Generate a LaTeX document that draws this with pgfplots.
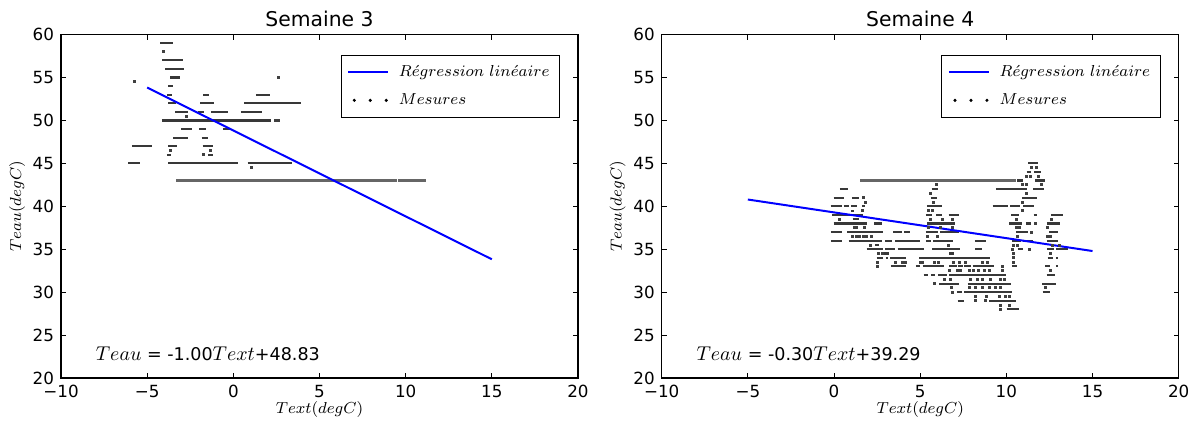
\documentclass[border=0pt]{standalone}
\usepackage[no-math]{fontspec}
\setmainfont{DejaVu Sans}
\usepackage{pgfplots}
\pgfplotsset{compat=1.18}

\pgfplotsset{
  every axis title/.style={at={(0.5,1)}, anchor=base, yshift=3.9bp, font=\fontsize{10.2}{12}\selectfont},
  myax/.style={
    scale only axis, width=258.5bp, height=171.7bp,
    xmin=-10, xmax=20, ymin=20, ymax=60,
    xtick={-10,-5,0,5,10,15,20},
    xticklabels={−10,−5,0,5,10,15,20},
    ytick={20,25,30,35,40,45,50,55,60},
    yticklabels={20,25,30,35,40,45,50,55,60},
    tick label style={font=\fontsize{8.4}{10}\selectfont},
    tick align=inside, major tick length=2.5bp,
    tick style={black, line width=0.5bp},
    axis line style={line width=0.6bp},
    unbounded coords=jump,
    xlabel={$Text(degC)$}, ylabel={$Teau(degC)$},
    label style={font=\fontsize{7.6}{9}\selectfont},
    xlabel style={at={(axis description cs:0.5,-0.093)}, anchor=center},
    ylabel style={at={(axis description cs:-0.085,0.5)}, anchor=center},
    legend style={at={(0.965,0.941)}, anchor=north east, draw=black, line width=0.5bp,
      font=\fontsize{8.5}{10}\selectfont, inner xsep=3bp, inner ysep=3bp, row sep=3bp, column sep=3bp},
    legend cell align=left,
  },
  seg/.style={black!78, line width=1.05bp, forget plot},
  reg/.style={blue, line width=1bp, legend image code/.code={\draw[##1] (0cm,0cm) -- (0.7cm,0cm);}},
  dots/.style={only marks, mark=square*, mark size=0.5bp, black!75,
    legend image code/.code={\fill[black] (0.106cm,0cm) circle[radius=0.5bp];
      \fill[black] (0.388cm,0cm) circle[radius=0.5bp];
      \fill[black] (0.67cm,0cm) circle[radius=0.5bp];}},
}
\tikzset{eq/.style={anchor=base west, inner sep=0pt, font=\fontsize{8.8}{11}\selectfont}}
\newcommand{\mv}[1]{{\fontsize{10}{12}\selectfont$#1$}}

\begin{document}
\begin{tikzpicture}
\begin{axis}[myax, at={(0,0)}, anchor=south west, title={Semaine 3}]
\addplot[seg] table[row sep=\\] {x y\\
-4.25 59\\ -3.48 59\\ nan nan\\
-4.12 57\\ -2.90 57\\ nan nan\\
-3.94 56\\ -2.84 56\\ nan nan\\
-3.67 55\\ -3.09 55\\ nan nan\\
-3.77 54\\ -3.48 54\\ nan nan\\
-3.86 53\\ -3.56 53\\ nan nan\\
-1.74 53\\ -1.43 53\\ nan nan\\
1.31 53\\ 2.13 53\\ nan nan\\
-3.77 52\\ -3.32 52\\ nan nan\\
-1.93 52\\ -1.14 52\\ nan nan\\
0.64 52\\ 3.92 52\\ nan nan\\
-3.38 51\\ -2.65 51\\ nan nan\\
-2.07 51\\ -1.70 51\\ nan nan\\
-1.31 51\\ -0.33 51\\ nan nan\\
0.44 51\\ 1.64 51\\ nan nan\\
-4.15 50\\ 2.18 50\\ nan nan\\
-3.03 49\\ -2.42 49\\ nan nan\\
-1.97 49\\ -1.58 49\\ nan nan\\
-0.58 49\\ -0.19 49\\ nan nan\\
-3.48 48\\ -2.65 48\\ nan nan\\
-1.84 48\\ -1.49 48\\ nan nan\\
-5.89 47\\ -4.73 47\\ nan nan\\
-3.77 47\\ -3.29 47\\ nan nan\\
-1.78 47\\ -1.20 47\\ nan nan\\
-3.86 46\\ -3.61 46\\ nan nan\\
-1.45 46\\ -1.20 46\\ nan nan\\
-6.09 45\\ -5.41 45\\ nan nan\\
-3.77 45\\ 0.29 45\\ nan nan\\
0.83 45\\ 3.38 45\\
};
\addplot[seg, black!60, line width=1.15bp] table[row sep=\\] {x y\\
-3.30 43\\ 9.47 43\\ nan nan\\
9.56 43\\ 11.20 43\\
};
\addplot[reg] coordinates {(-5,53.83) (15,33.83)};
\addlegendentry{$R\acute{e}gression\ lin\acute{e}aire$}
\addplot[dots] table[row sep=\\] {x y\\
-4.04 58\\ -5.72 54.5\\ 2.61 55\\ -2.74 50.5\\ 2.42 50\\ 2.61 50\\
-3.67 46.5\\ -1.31 46.5\\ -1.74 46\\ 1.02 44.5\\
};
\addlegendentry{$Mesures$}
\node[eq] at (axis cs:-8,22) {\mv{Teau} = -1.00\mv{Text}+48.83};
\end{axis}

\begin{axis}[myax, at={(300.35bp,0)}, anchor=south west, title={Semaine 4}]
\addplot[seg] table[row sep=\\] {x y\\
11.28 45\\ 11.86 45\\ nan nan\\
11.17 44\\ 11.44 44\\ nan nan\\
11.62 44\\ 12.00 44\\ nan nan\\
10.61 43\\ 10.99 43\\ nan nan\\
11.67 43\\ 12.25 43\\ nan nan\\
0.34 42\\ 0.80 42\\ nan nan\\
5.66 42\\ 6.06 42\\ nan nan\\
9.39 42\\ 11.17 42\\ nan nan\\
11.56 42\\ 12.17 42\\ nan nan\\
-0.03 41\\ 0.55 41\\ nan nan\\
1.04 41\\ 1.46 41\\ nan nan\\
5.62 41\\ 5.97 41\\ nan nan\\
10.90 41\\ 11.75 41\\ nan nan\\
-0.20 40\\ 0.44 40\\ nan nan\\
0.55 40\\ 0.84 40\\ nan nan\\
0.98 40\\ 1.36 40\\ nan nan\\
1.62 40\\ 1.81 40\\ nan nan\\
5.39 40\\ 6.29 40\\ nan nan\\
9.20 40\\ 10.07 40\\ nan nan\\
10.22 40\\ 10.80 40\\ nan nan\\
10.99 40\\ 11.61 40\\ nan nan\\
0.98 39.5\\ 1.17 39.5\\ nan nan\\
-0.09 39\\ 1.66 39\\ nan nan\\
5.33 39\\ 5.71 39\\ nan nan\\
5.91 39\\ 6.29 39\\ nan nan\\
6.65 39\\ 7.26 39\\ nan nan\\
10.27 39\\ 10.74 39\\ nan nan\\
11.58 39\\ 11.77 39\\ nan nan\\
12.58 39\\ 13.26 39\\ nan nan\\
1.08 38.5\\ 1.46 38.5\\ nan nan\\
-0.03 38\\ 1.90 38\\ nan nan\\
2.33 38\\ 2.81 38\\ nan nan\\
5.42 38\\ 7.01 38\\ nan nan\\
10.16 38\\ 10.88 38\\ nan nan\\
11.13 38\\ 11.42 38\\ nan nan\\
12.35 38\\ 13.12 38\\ nan nan\\
-0.18 37\\ 0.49 37\\ nan nan\\
0.78 37\\ 2.87 37\\ nan nan\\
3.45 37\\ 3.94 37\\ nan nan\\
4.07 37\\ 4.42 37\\ nan nan\\
5.33 37\\ 6.04 37\\ nan nan\\
6.14 37\\ 7.26 37\\ nan nan\\
10.56 37\\ 11.28 37\\ nan nan\\
12.48 37\\ 12.97 37\\ nan nan\\
-0.18 36\\ 0.49 36\\ nan nan\\
0.84 36\\ 2.76 36\\ nan nan\\
2.97 36\\ 3.36 36\\ nan nan\\
3.55 36\\ 5.00 36\\ nan nan\\
5.33 36\\ 5.62 36\\ nan nan\\
5.75 36\\ 6.93 36\\ nan nan\\
8.17 36\\ 8.81 36\\ nan nan\\
10.32 36\\ 10.84 36\\ nan nan\\
10.94 36\\ 11.52 36\\ nan nan\\
12.35 36\\ 12.99 36\\ nan nan\\
2.39 35.5\\ 2.62 35.5\\ nan nan\\
1.89 35\\ 2.85 35\\ nan nan\\
2.95 35\\ 3.55 35\\ nan nan\\
3.69 35\\ 5.23 35\\ nan nan\\
5.71 35\\ 7.30 35\\ nan nan\\
8.19 35\\ 8.61 35\\ nan nan\\
10.65 35\\ 10.94 35\\ nan nan\\
12.35 35\\ 12.77 35\\ nan nan\\
12.87 35\\ 13.60 35\\ nan nan\\
2.87 34.5\\ 3.20 34.5\\ nan nan\\
6.68 34.5\\ 6.97 34.5\\ nan nan\\
2.47 34\\ 2.87 34\\ nan nan\\
3.01 34\\ 3.16 34\\ nan nan\\
3.26 34\\ 4.17 34\\ nan nan\\
4.94 34\\ 9.06 34\\ nan nan\\
12.39 34\\ 12.68 34\\ nan nan\\
12.87 34\\ 12.99 34\\ nan nan\\
3.30 33\\ 4.17 33\\ nan nan\\
4.75 33\\ 5.00 33\\ nan nan\\
5.14 33\\ 6.39 33\\ nan nan\\
6.68 33\\ 7.11 33\\ nan nan\\
7.17 33\\ 7.46 33\\ nan nan\\
7.56 33\\ 7.94 33\\ nan nan\\
8.04 33\\ 9.31 33\\ nan nan\\
10.32 33\\ 10.61 33\\ nan nan\\
12.26 33\\ 12.54 33\\ nan nan\\
12.87 33\\ 12.99 33\\ nan nan\\
5.20 32\\ 5.48 32\\ nan nan\\
5.62 32\\ 5.87 32\\ nan nan\\
6.04 32\\ 6.58 32\\ nan nan\\
6.68 32\\ 9.97 32\\ nan nan\\
12.33 32\\ 12.81 32\\ nan nan\\
6.10 31\\ 7.26 31\\ nan nan\\
7.75 31\\ 10.26 31\\ nan nan\\
12.08 31\\ 12.87 31\\ nan nan\\
7.13 30\\ 7.42 30\\ nan nan\\
7.56 30\\ 10.32 30\\ nan nan\\
12.10 30\\ 12.54 30\\ nan nan\\
7.17 29\\ 7.56 29\\ nan nan\\
9.00 29\\ 10.55 29\\ nan nan\\
10.01 28\\ 10.75 28\\
};
\addplot[seg, black!60, line width=1.15bp] table[row sep=\\] {x y\\
1.52 43\\ 10.55 43\\
};
\addplot[reg] coordinates {(-5,40.79) (15,34.79)};
\addlegendentry{$R\acute{e}gression\ lin\acute{e}aire$}
\addplot[dots] table[row sep=\\] {x y\\
11.48 44.5\\ 11.75 44.5\\
11.19 43.5\\ 11.37 43.5\\ 11.87 43.5\\
5.95 42.5\\ 10.94 42.5\\ 11.17 42.5\\ 12.04 42.5\\
5.62 41.5\\ 11.19 41.5\\
1.71 41\\
1.81 40.5\\ 5.75 40.5\\ 10.94 40.5\\
1.62 39.5\\ 5.48 39.5\\ 5.68 39.5\\ 10.94 39.5\\
0.34 38.5\\ 5.62 38.5\\ 6.26 38.5\\ 6.88 38.5\\ 10.61 38.5\\ 12.62 38.5\\
11.71 38\\
1.17 37.5\\ 1.32 37.5\\ 1.75 37.5\\ 5.48 37.5\\ 6.16 37.5\\ 6.88 37.5\\ 10.56 37.5\\ 10.78 37.5\\ 12.39 37.5\\
11.48 37\\
1.08 36.5\\ 1.27 36.5\\ 1.46 36.5\\ 1.69 36.5\\ 1.89 36.5\\ 2.19 36.5\\ 5.39 36.5\\ 6.01 36.5\\ 10.65 36.5\\ 12.39 36.5\\ 12.58 36.5\\
2.10 35.5\\ 6.64 35.5\\ 10.40 35.5\\ 10.65 35.5\\ 12.68 35.5\\ 13.06 35.5\\
10.36 35\\ 11.36 35\\
2.59 34.5\\ 2.78 34.5\\ 10.40 34.5\\ 12.54 34.5\\
10.40 34\\
2.53 33.5\\ 3.55 33.5\\ 3.97 33.5\\ 4.13 33.5\\ 5.00 33.5\\ 5.14 33.5\\ 5.81 33.5\\ 6.06 33.5\\ 6.90 33.5\\ 7.30 33.5\\ 7.60 33.5\\ 8.61 33.5\\ 8.90 33.5\\ 10.41 33.5\\
2.49 33\\ 9.78 33\\
6.68 32.5\\ 7.16 32.5\\ 7.36 32.5\\ 7.84 32.5\\ 8.10 32.5\\ 8.40 32.5\\ 8.70 32.5\\ 8.99 32.5\\ 9.78 32.5\\ 12.54 32.5\\
6.43 31.5\\ 6.74 31.5\\ 7.94 31.5\\ 8.30 31.5\\ 8.60 31.5\\ 9.06 31.5\\ 9.68 31.5\\ 9.88 31.5\\
5.81 31\\
6.82 30.5\\ 7.84 30.5\\ 8.20 30.5\\ 8.60 30.5\\ 8.99 30.5\\ 9.39 30.5\\ 9.68 30.5\\ 12.29 30.5\\
6.84 30\\
8.23 29.5\\ 8.86 29.5\\ 9.59 29.5\\ 9.97 29.5\\ 10.16 29.5\\
8.23 29\\ 8.81 29\\
9.68 28.5\\ 10.16 28.5\\
9.64 28\\
};
\addlegendentry{$Mesures$}
\node[eq] at (axis cs:-8,22) {\mv{Teau} = -0.30\mv{Text}+39.29};
\end{axis}
\pgfresetboundingbox
\useasboundingbox (-30.5bp,-22.5bp) rectangle (566.5bp,189bp);
\end{tikzpicture}
\end{document}
